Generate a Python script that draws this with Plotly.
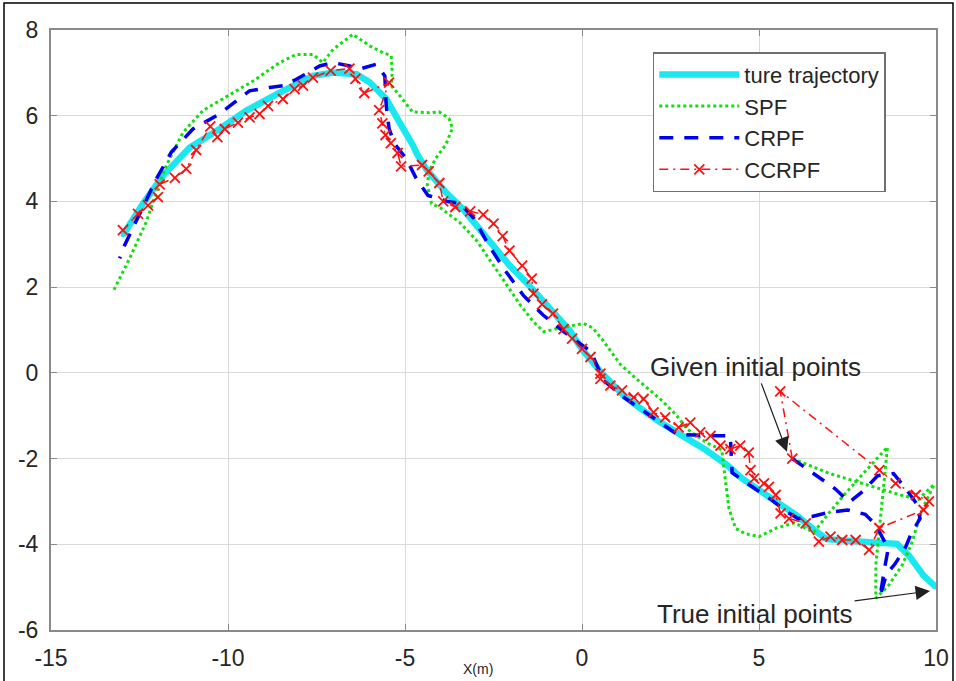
import plotly.graph_objects as go

# ---- data ----
true_x = [10.0, 9.65, 9.23, 8.9, 8.14, 7.58, 6.92, 6.64, 6.07, 5.51, 4.94, 4.5, 4.1, 3.5, 2.9, 2.2,
          1.6, 1.2, 0.55, 0.0, -0.34, -0.72, -1.19, -1.56, -2.03, -2.5, -2.88, -3.35, -3.82, -4.39,
          -4.67, -4.77, -5.15, -5.53, -6.0, -6.37, -7.03, -7.6, -8.54, -9.48, -10.24, -11.08, -11.84,
          -12.4, -12.97]
true_y = [-5.0, -4.73, -4.26, -3.99, -3.95, -3.91, -3.88, -3.72, -3.33, -3.02, -2.71, -2.45, -2.15,
          -1.8, -1.5, -1.15, -0.8, -0.55, 0.0, 0.55, 0.98, 1.33, 1.79, 2.1, 2.49, 2.95, 3.34, 3.81,
          4.19, 4.74, 5.12, 5.3, 5.84, 6.39, 6.78, 6.97, 7.01, 6.93, 6.54, 6.12, 5.69, 5.26, 4.6,
          3.95, 3.21]

spf_x = [5.94, 7.0, 8.0, 9.0, 9.5, 9.95, 9.71, 9.52, 9.33, 9.05, 8.67, 8.3, 8.3, 8.39, 8.47, 8.63,
         8.0, 7.4, 6.9, 6.55, 6.0, 5.5, 5.0, 4.6, 4.34, 4.15, 4.05, 3.95, 3.5, 2.97, 2.68, 2.21,
         1.65, 1.08, 0.6, 0.3, 0.05, -0.5, -1.08, -1.37, -1.74, -2.12, -2.5, -2.97, -3.44, -4.0,
         -4.25, -4.37, -4.32, -4.13, -3.85, -3.66, -3.76, -4.04, -4.32, -4.79, -5.15, -5.39, -5.36,
         -5.39, -5.62, -6.0, -6.47, -7.03, -7.32, -7.6, -8.07, -8.54, -9.29, -10.05, -10.71, -11.27,
         -11.74, -11.93, -12.31, -12.78, -13.25]
spf_y = [-2.0, -2.35, -2.6, -2.85, -2.95, -2.6, -3.01, -3.4, -3.94, -4.48, -4.95, -5.26, -4.48,
         -3.71, -2.93, -1.73, -2.3, -2.85, -3.35, -3.72, -3.5, -3.62, -3.82, -3.75, -3.63, -3.16,
         -2.5, -1.8, -1.62, -1.31, -1.0, -0.61, -0.22, 0.2, 0.75, 1.05, 1.15, 1.07, 0.96, 1.19,
         1.58, 2.04, 2.5, 3.08, 3.5, 3.85, 3.95, 4.39, 4.7, 5.01, 5.32, 5.71, 5.94, 6.09, 6.07,
         6.09, 6.47, 6.7, 7.02, 7.4, 7.47, 7.63, 7.9, 7.55, 7.24, 7.43, 7.43, 7.24, 6.81, 6.43,
         6.12, 5.61, 4.84, 4.45, 3.52, 2.67, 1.89]

crpf_x = [5.94, 6.64, 7.16, 7.55, 7.95, 8.35, 8.8, 9.1, 9.45, 9.55, 9.3, 9.15, 8.85, 8.6, 8.42,
          8.55, 8.65, 8.3, 8.0, 7.5, 7.0, 6.5, 6.1, 5.8, 5.3, 4.7, 4.24, 4.19, 3.62, 2.68, 1.93,
          1.18, 0.61, 0.25, -0.5, -1.1, -1.65, -2.2, -2.65, -3.05, -3.45, -3.8, -4.35, -4.68,
          -4.96, -5.3, -5.45, -5.53, -5.57, -5.81, -6.28, -6.56, -7.03, -7.41, -8.07, -8.45,
          -8.82, -9.39, -9.76, -10.24, -10.99, -11.6, -12.02, -12.45, -12.92, -13.06]
crpf_y = [-2.0, -2.4, -2.71, -3.02, -2.75, -2.4, -2.35, -2.65, -3.05, -3.4, -3.75, -4.05, -4.45,
          -4.7, -5.22, -4.55, -4.1, -3.55, -3.3, -3.2, -3.25, -3.35, -3.4, -3.25, -2.93, -2.6,
          -2.33, -1.47, -1.47, -1.43, -1.0, -0.57, -0.18, 0.5, 0.95, 1.35, 1.8, 2.42, 3.0, 3.6,
          3.96, 4.0, 4.14, 4.53, 4.99, 5.35, 5.7, 6.23, 6.93, 7.2, 7.09, 7.16, 7.24, 7.16, 6.85,
          6.7, 6.66, 6.58, 6.35, 6.04, 5.69, 5.15, 4.53, 3.79, 2.98, 2.67]

ccrpf_x = [5.94, 5.6, 8.4, 8.86, 9.43, 9.8, 9.65, 8.4, 8.11, 7.73, 7.35, 7.02, 6.69, 6.32, 5.85,
           5.61, 5.47, 5.28, 5.14, 4.86, 4.76, 4.71, 4.47, 4.19, 3.91, 3.63, 3.34, 3.06, 2.73,
           2.35, 2.02, 1.74, 1.46, 1.13, 0.8, 0.52, 0.52, 0.24, 0.0, -0.28, -0.52, -0.82, -1.13,
           -1.37, -1.42, -1.69, -2.05, -2.24, -2.5, -2.79, -3.16, -3.58, -3.92, -4.03, -4.33,
           -4.52, -5.11, -5.21, -5.4, -5.55, -5.64, -5.73, -5.45, -6.15, -6.4, -6.57, -7.1, -7.6,
           -7.88, -8.12, -8.45, -8.87, -9.11, -9.39, -9.72, -10.09, -10.3, -10.5, -10.9, -11.18,
           -11.5, -11.93, -11.98, -12.26, -12.54, -12.97]
ccrpf_y = [-2.0, -0.43, -2.27, -2.58, -2.85, -3.0, -3.2, -3.62, -4.13, -3.9, -3.9, -3.82, -3.94,
           -3.51, -3.4, -3.28, -2.85, -2.66, -2.58, -2.47, -2.27, -1.86, -1.7, -1.78, -1.7, -1.47,
           -1.39, -1.16, -1.27, -1.04, -0.92, -0.61, -0.57, -0.41, -0.3, -0.14, -0.02, 0.37, 0.56,
           0.8, 1.02, 1.38, 1.6, 1.85, 2.2, 2.5, 2.85, 3.19, 3.48, 3.69, 3.77, 3.87, 4.0, 4.43,
           4.7, 4.85, 4.82, 5.13, 5.36, 5.55, 5.82, 6.13, 6.77, 6.53, 6.86, 7.1, 7.05, 6.89, 6.7,
           6.62, 6.39, 6.23, 6.04, 5.96, 5.84, 5.69, 5.5, 5.75, 5.2, 4.76, 4.55, 4.4, 4.1, 3.91,
           3.71, 3.33]

x_ticks = [-15, -10, -5, 0, 5, 10]
x_tick_text = ["-15", "-10", "-5", "0", "5", "10"]
y_ticks = [-6, -4, -2, 0, 2, 4, 6, 8]
y_tick_text = ["-6", "-4", "-2", "0", "2", "4", "6", "8"]

FONT = "Arial, Liberation Sans, sans-serif"

fig = go.Figure()
fig.add_trace(go.Scatter(x=true_x, y=true_y, name="ture trajectory", mode="lines+markers",
                         line=dict(color="#19E8F0", width=6.5),
                         marker=dict(size=4, color="#19E8F0")))
fig.add_trace(go.Scatter(x=spf_x, y=spf_y, name="SPF", mode="lines",
                         line=dict(color="#10E010", width=3, dash="dot")))
fig.add_trace(go.Scatter(x=crpf_x, y=crpf_y, name="CRPF", mode="lines",
                         line=dict(color="#0000F0", width=3.5, dash="14px,11px")))
fig.add_trace(go.Scatter(x=ccrpf_x, y=ccrpf_y, name="CCRPF", mode="lines+markers",
                         line=dict(color="#FF1010", width=1.5, dash="9px,5px,2px,5px"),
                         marker=dict(symbol="x-thin", size=10, line=dict(color="#FF1010", width=1.8))))

axis_common = dict(showgrid=True, gridcolor="#dadada", gridwidth=1, zeroline=False,
                   showline=True, linecolor="#8a8a8a", linewidth=2, mirror="ticks",
                   ticks="inside", ticklen=6, tickcolor="#8a8a8a", tickwidth=1,
                   automargin=False,
                   tickfont=dict(family=FONT, size=23, color="#262626"))

fig.update_layout(
    width=956, height=681,
    margin=dict(l=51, r=20, t=30, b=51),
    paper_bgcolor="white", plot_bgcolor="white",
    xaxis=dict(range=[-15, 10], tickvals=x_ticks, ticktext=x_tick_text,
               ticklabelstandoff=6, **axis_common),
    yaxis=dict(range=[-6, 8], tickvals=y_ticks, ticktext=y_tick_text,
               ticklabelstandoff=6, **axis_common),
    legend=dict(x=0.68, y=0.963, xanchor="left", yanchor="top",
                bgcolor="white", bordercolor="#707070", borderwidth=1.5,
                font=dict(family=FONT, size=22, color="#262626"),
                itemwidth=80, tracegroupgap=0),
    showlegend=True,
    annotations=[
        dict(x=5.79, y=-1.84, ax=4.89, ay=0.14, xref="x", yref="y", axref="x", ayref="y",
             text="Given initial points", showarrow=True, arrowhead=2, arrowsize=2.4,
             arrowwidth=1.2, arrowcolor="#202020",
             font=dict(family=FONT, size=26, color="#262626")),
        dict(x=9.83, y=-5.09, ax=4.89, ay=-5.62, xref="x", yref="y", axref="x", ayref="y",
             text="True initial points", showarrow=True, arrowhead=2, arrowsize=2.4,
             arrowwidth=1.2, arrowcolor="#202020",
             font=dict(family=FONT, size=26, color="#262626")),
        dict(x=0.482, y=-0.0817, xref="paper", yref="paper", text="X(m)", showarrow=False,
             yanchor="bottom", font=dict(family=FONT, size=14, color="#262626")),
    ],
    shapes=[dict(type="rect", xref="paper", yref="paper", x0=-0.0531, x1=1.0192,
                 y0=-0.2, y1=1.045, line=dict(color="black", width=1.5), layer="below")],
)

fig.write_html("out.html", config={"displayModeBar": False},
               post_script="document.body.style.margin='0';document.body.style.overflow='hidden';")
